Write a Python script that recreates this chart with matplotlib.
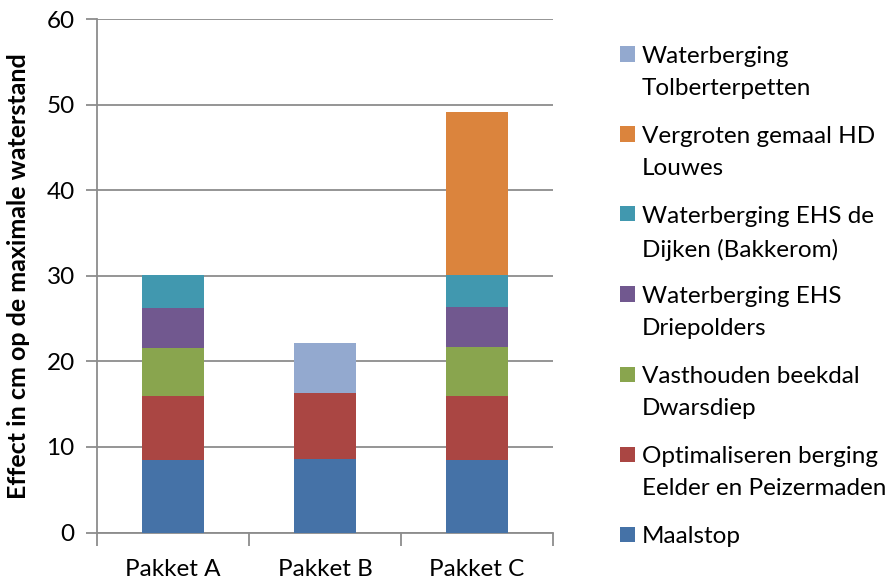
import matplotlib
matplotlib.use("Agg")
import matplotlib.pyplot as plt
from matplotlib.patches import Rectangle

plt.rcParams['font.family'] = ['Lato', 'DejaVu Sans']

categories = ["Pakket A", "Pakket B", "Pakket C"]
series_names = [
    "Maalstop",
    "Optimaliseren berging\nEelder en Peizermaden",
    "Vasthouden beekdal\nDwarsdiep",
    "Waterberging EHS\nDriepolders",
    "Waterberging EHS de\nDijken (Bakkerom)",
    "Vergroten gemaal HD\nLouwes",
    "Waterberging\nTolberterpetten",
]
maalstop = [8.45, 8.6, 8.5]
optimaliseren = [7.5, 7.7, 7.5]
vasthouden = [5.6, 0.0, 5.7]
driepolders = [4.7, 0.0, 4.7]
ehs_dijken = [3.8, 0.0, 3.7]
vergroten = [0.0, 0.0, 19.0]
tolberterpetten = [0.0, 5.8, 0.0]
series_values = [maalstop, optimaliseren, vasthouden, driepolders, ehs_dijken, vergroten, tolberterpetten]
colors = ["#4572a7", "#aa4643", "#89a54e", "#71588f", "#4198af", "#db843d", "#93a9cf"]
yticks = [0, 10, 20, 30, 40, 50, 60]

FS = 17.5
W, H = 894, 581
fig = plt.figure(figsize=(W / 100, H / 100), dpi=100)
ax = fig.add_axes([97 / W, 1 - 532.5 / H, (553 - 97) / W, (532.5 - 19) / H])

x = list(range(len(categories)))
bottom = [0.0] * len(categories)
for vals, col in zip(series_values, colors):
    ax.bar(x, vals, width=0.41, bottom=bottom, color=col, edgecolor='none', zorder=3)
    bottom = [b + v for b, v in zip(bottom, vals)]

ax.set_xlim(-0.5, 2.5)
ax.set_ylim(0, 60)
ax.set_yticks(yticks)
ax.yaxis.grid(True, color='#8c8c8c', linewidth=1.3, zorder=0)
ax.set_axisbelow(True)
for s in ['top', 'right']:
    ax.spines[s].set_visible(False)
ax.spines['left'].set_color('#8c8c8c')
ax.spines['bottom'].set_color('#8c8c8c')
ax.spines['left'].set_linewidth(1.3)
ax.spines['bottom'].set_linewidth(1.3)
ax.tick_params(axis='y', colors='#8c8c8c', length=8, width=1.3, labelcolor='black', labelsize=FS, pad=8)
ax.set_xticks([-0.5, 0.5, 1.5, 2.5], minor=False)
ax.set_xticklabels([])
ax.tick_params(axis='x', which='major', colors='#8c8c8c', length=9, width=1.3)
ax.set_xticks(x, minor=True)
ax.set_xticklabels(categories, minor=True)
ax.tick_params(axis='x', which='minor', length=0, labelsize=FS, labelcolor='black', pad=19)
ax.set_ylabel("Effect in cm op de maximale waterstand", fontsize=18, fontweight='bold', labelpad=12)

# legend (reverse order, top to bottom)
legend_top = 54
spacing = 80
for i, idx in enumerate(reversed(range(len(series_names)))):
    yc = legend_top + i * spacing
    fig.patches.append(Rectangle((620 / W, 1 - (yc + 7.5) / H), 15 / W, 15 / H,
                                 transform=fig.transFigure, facecolor=colors[idx], edgecolor='none'))
    fig.text(642 / W, 1 - (yc - 8) / H, series_names[idx], fontsize=FS, va='top', ha='left',
             linespacing=1.65)

fig.savefig("out.png", dpi=100)
